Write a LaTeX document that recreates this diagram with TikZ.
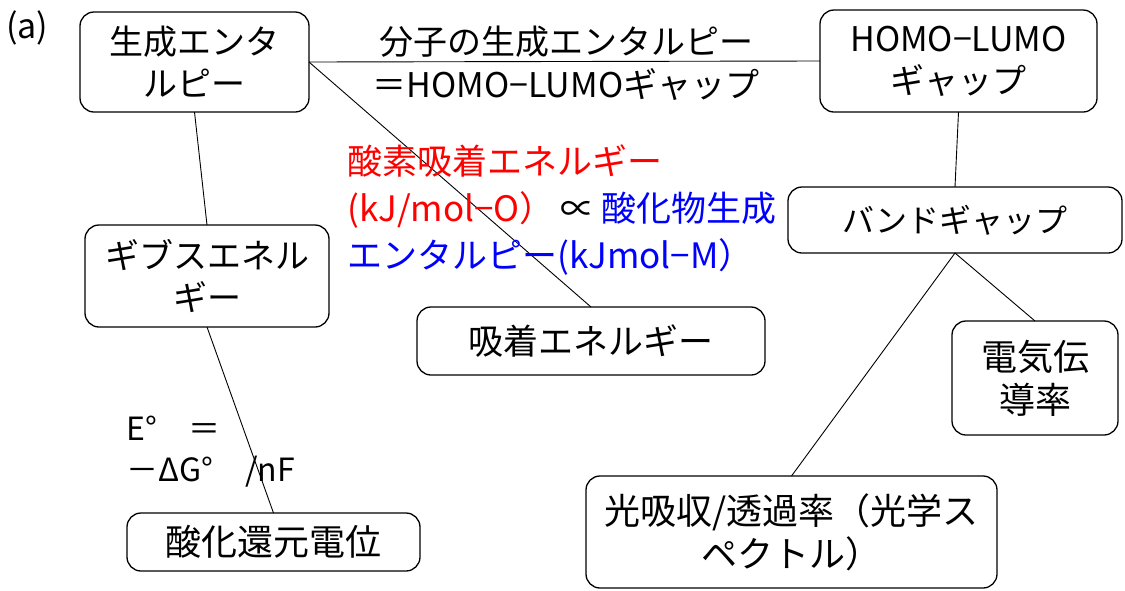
\documentclass[tikz,border=0pt]{standalone}
\usepackage{fontspec}
\setmainfont{Noto Sans CJK JP}
\begin{document}
\begin{tikzpicture}[x=1pt,y=-1pt,
  box/.style={draw=black, line width=1.3pt, rounded corners=14pt, align=center,
    inner sep=0pt, outer sep=0pt, font=\fontsize{34}{42}\selectfont},
  big/.style={font=\fontsize{36}{43}\selectfont},
  link/.style={draw=black, line width=0.9pt},
  plain/.style={align=left, inner sep=0pt}]
\useasboundingbox (0,0) rectangle (1125,590);
\node[box, minimum width=229pt, minimum height=100pt] (gen) at (194.5,62) {生成エンタ\\ルピー};
\node[box, minimum width=277pt, minimum height=102pt] (homo) at (958.5,61) {HOMO−LUMO\\ギャップ};
\node[box, minimum width=334pt, minimum height=66pt, font=\fontsize{32}{42}\selectfont] (band) at (955,220) {バンドギャップ};
\node[box, minimum width=244pt, minimum height=102pt] (gibbs) at (207,276) {ギブスエネル\\ギー};
\node[box, minimum width=348pt, minimum height=68pt, font=\fontsize{35}{42}\selectfont] (ads) at (591,341) {吸着エネルギー};
\node[box, big, minimum width=166pt, minimum height=114pt] (cond) at (1035,378) {電気伝\\導率};
\node[box, big, minimum width=411pt, minimum height=112pt] (opt) at (791.5,532) {光吸収/透過率（光学ス\\ペクトル）};
\node[box, big, minimum width=293pt, minimum height=58pt] (redox) at (273.5,542) {酸化還元電位};

\draw[link] (gen.east) -- (homo.west);
\draw[link] (gen.east) -- (ads.north);
\draw[link] (gen.south) -- (gibbs.north);
\draw[link] (gibbs.south) -- (redox.north);
\draw[link] (homo.south) -- (band.north);
\draw[link] (band.south) -- (cond.north);
\draw[link] (band.south) -- (opt.north);

\node[plain, anchor=west, font=\fontsize{34}{36}\selectfont] (lab) at (6,28) {(a)};
\node[align=center, inner sep=0pt, font=\fontsize{34}{43}\selectfont] (mol) at (566,63) {分子の生成エンタルピー\\＝HOMO−LUMOギャップ};
\node[plain, anchor=west, font=\fontsize{35}{47}\selectfont] (oxy) at (347,210)
  {\textcolor{red}{酸素吸着エネルギー}\\
   \textcolor{red}{(kJ/mol−O）}\,∝\,\textcolor{blue}{酸化物生成}\\
   \textcolor{blue}{エンタルピー(kJmol−M）}};
\node[plain, anchor=west, font=\fontsize{32}{41}\selectfont] (eq) at (126,452) {E°　＝\\－ΔG°　/nF};
\end{tikzpicture}
\end{document}
